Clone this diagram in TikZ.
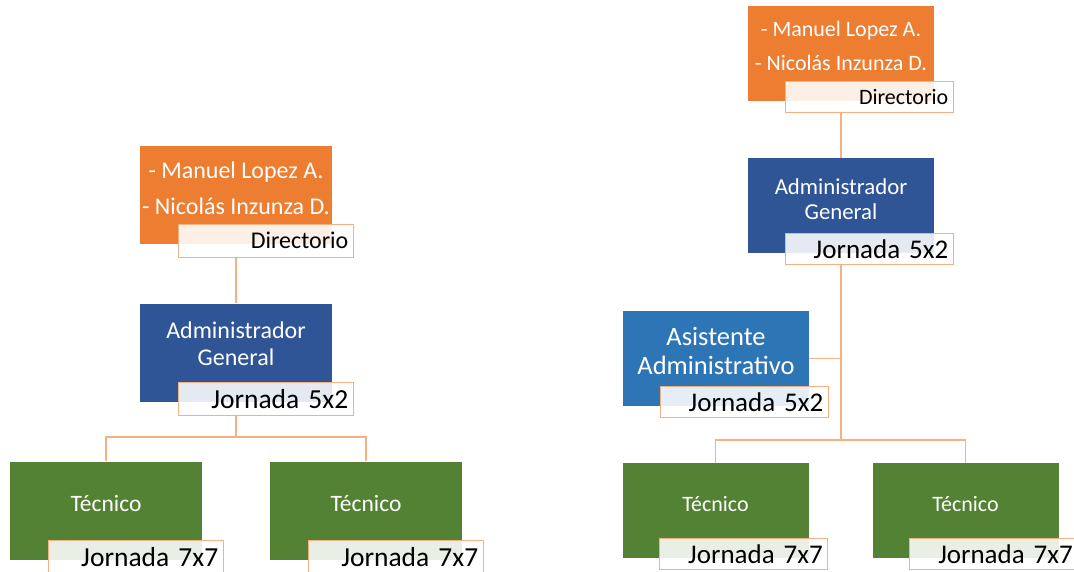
\documentclass[tikz,border=0pt]{standalone}
\usepackage{fontspec}
\setmainfont{Carlito}
\definecolor{dirorange}{HTML}{ED7D31}
\definecolor{admblue}{HTML}{2F5597}
\definecolor{asisblue}{HTML}{2E75B6}
\definecolor{tecgreen}{HTML}{548235}
\definecolor{linkorange}{HTML}{F4B183}
\newcommand\setfs[2]{\fontsize{#1}{#2}\selectfont}
\tikzset{
  roleL/.style={inner sep=0, minimum width=192, minimum height=98},
  roleR/.style={inner sep=0, minimum width=186, minimum height=95},
  roletext/.style={text=white, align=center, inner sep=0},
  tagbase/.style={draw=linkorange, line width=1pt, fill=white, fill opacity=0.88,
    text opacity=1, align=right, inner xsep=5, inner ysep=0, anchor=north west},
  tagL/.style={tagbase, minimum height=33, text width=165},
  tagR/.style={tagbase, minimum height=31, text width=158},
  link/.style={draw=linkorange, line width=1.2pt}
}
\begin{document}
\begin{tikzpicture}[x=1pt,y=-1pt]
  \useasboundingbox (0,0) rectangle (1074,571);
  % left chart
  \node[roleL, fill=dirorange] (dirL) at (236,194.5) {};
  \node[roletext, font=\setfs{24}{36}] (dirLtext) at (236,188) {- Manuel Lopez A.\\- Nicolás Inzunza D.};
  \node[tagL, font=\setfs{24}{28}] (dirLtag) at ([shift={(38,-20)}]dirL.south west) {Directorio};
  \node[roleL, fill=admblue] (admL) at (236,352.5) {};
  \node[roletext, font=\setfs{24}{27}] (admLtext) at (236,344) {Administrador\\General};
  \node[tagL, font=\setfs{27.5}{30}] (admLtag) at ([shift={(38,-20)}]admL.south west) {Jornada 5x2};
  \node[roleL, fill=tecgreen] (tecLa) at (106,510.5) {};
  \node[roletext, font=\setfs{23.5}{27}] (tecLatext) at (106,503) {Técnico};
  \node[tagL, font=\setfs{27.5}{30}] (tecLatag) at ([shift={(38,-20)}]tecLa.south west) {Jornada 7x7};
  \node[roleL, fill=tecgreen] (tecLb) at (366,510.5) {};
  \node[roletext, font=\setfs{23.5}{27}] (tecLbtext) at (366,503) {Técnico};
  \node[tagL, font=\setfs{27.5}{30}] (tecLbtag) at ([shift={(38,-20)}]tecLb.south west) {Jornada 7x7};
  \coordinate (busL) at (236,437);
  \draw[link] (dirL.center |- dirLtag.south) -- (admL.north);
  \draw[link] (admL.center |- admLtag.south) -- (busL);
  \draw[link] (busL) -| (tecLa.north);
  \draw[link] (busL) -| (tecLb.north);
  % right chart
  \node[roleR, fill=dirorange] (dirR) at (841,53) {};
  \node[roletext, font=\setfs{22}{34}] (dirRtext) at (841,45.5) {- Manuel Lopez A.\\- Nicolás Inzunza D.};
  \node[tagR, font=\setfs{22}{26}] (dirRtag) at ([shift={(37,-20)}]dirR.south west) {Directorio};
  \node[roleR, fill=admblue] (admR) at (841,205.5) {};
  \node[roletext, font=\setfs{22.8}{25}] (admRtext) at (841,199) {Administrador\\General};
  \node[tagR, font=\setfs{27}{30}] (admRtag) at ([shift={(37,-20)}]admR.south west) {Jornada 5x2};
  \node[roleR, fill=asisblue] (asis) at (716,358.5) {};
  \node[roletext, font=\setfs{26.5}{29}] (asistext) at (716,351) {Asistente\\Administrativo};
  \node[tagR, font=\setfs{27}{30}] (asistag) at ([shift={(37,-20)}]asis.south west) {Jornada 5x2};
  \node[roleR, fill=tecgreen] (tecRa) at (715.5,510.5) {};
  \node[roletext, font=\setfs{22}{25}] (tecRatext) at (715.5,504) {Técnico};
  \node[tagR, font=\setfs{27}{30}] (tecRatag) at ([shift={(37,-20)}]tecRa.south west) {Jornada 7x7};
  \node[roleR, fill=tecgreen] (tecRb) at (965.5,510.5) {};
  \node[roletext, font=\setfs{22}{25}] (tecRbtext) at (965.5,504) {Técnico};
  \node[tagR, font=\setfs{27}{30}] (tecRbtag) at ([shift={(37,-20)}]tecRb.south west) {Jornada 7x7};
  \coordinate (busR) at (841,440);
  \draw[link] (dirR.center |- dirRtag.south) -- (admR.north);
  \draw[link] (admR.center |- admRtag.south) -- (busR);
  \draw[link] (asis.east) -- (asis.east -| busR);
  \draw[link] (busR) -| (tecRa.north);
  \draw[link] (busR) -| (tecRb.north);
\end{tikzpicture}
\end{document}
